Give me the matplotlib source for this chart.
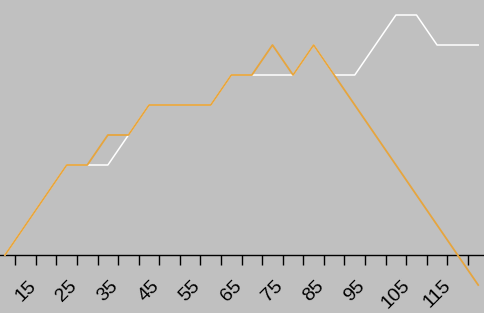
import matplotlib
matplotlib.use('Agg')
import matplotlib.pyplot as plt
from matplotlib.ticker import FixedLocator, FixedFormatter, NullFormatter

# ---- data ----
x_values = [10, 15, 20, 25, 30, 35, 40, 45, 50, 55, 60, 65,
            70, 75, 80, 85, 90, 95, 100, 105, 110, 115, 120, 125]
white_series = [0, 1, 2, 3, 3, 3, 4, 5, 5, 5, 5, 6,
                6, 6, 6, 7, 6, 6, 7, 8, 8, 7, 7, 7]
orange_series = [0, 1, 2, 3, 3, 4, 4, 5, 5, 5, 5, 6,
                 6, 7, 6, 7, 6, 5, 4, 3, 2, 1, 0, -1]
label_values = [15, 25, 35, 45, 55, 65, 75, 85, 95, 105, 115]
tick_labels = [str(v) for v in label_values]

BG = '#C0C0C0'
ORANGE = '#E6A53E'

plt.rcParams['font.family'] = ['Liberation Sans', 'DejaVu Sans']

fig = plt.figure(figsize=(4.85, 3.13), dpi=100, facecolor=BG)
ax = fig.add_axes([0, 58 / 313, 1, 255 / 313])
ax.set_facecolor(BG)

ax.plot(x_values, white_series, color='white', lw=1.1, clip_on=False, zorder=3)
ax.plot(x_values, orange_series, color=ORANGE, lw=1.3, clip_on=False, zorder=4)

step = x_values[1] - x_values[0]
ax.set_xlim(x_values[0] - 0.243 * step, x_values[0] + 23.33 * step)
ax.set_ylim(0, 8.5)

for s in ['top', 'left', 'right']:
    ax.spines[s].set_visible(False)
ax.spines['bottom'].set_color('black')
ax.spines['bottom'].set_linewidth(1.0)
ax.spines['bottom'].set_zorder(2)

# boundaries between categories as tick marks
bounds = [(a + b) / 2 for a, b in zip(x_values[:-1], x_values[1:])]
ax.xaxis.set_minor_locator(FixedLocator(bounds))
ax.xaxis.set_minor_formatter(NullFormatter())
ax.xaxis.set_major_locator(FixedLocator(label_values))
ax.xaxis.set_major_formatter(FixedFormatter(tick_labels))
ax.tick_params(axis='x', which='minor', length=7, width=1, color='black', direction='out')
ax.tick_params(axis='x', which='major', length=0, pad=16, labelsize=14, labelcolor='black')
for lbl in ax.get_xticklabels():
    lbl.set_rotation(45)
    lbl.set_ha('center')
ax.set_yticks([])

fig.savefig('out.png', dpi=100, facecolor=BG)
